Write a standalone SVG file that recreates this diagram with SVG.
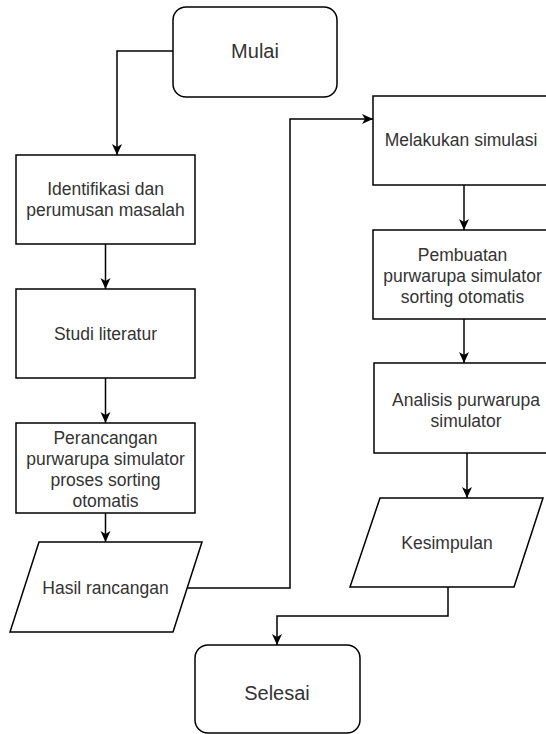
<svg xmlns="http://www.w3.org/2000/svg" width="546" height="734" viewBox="0 0 546 734">
<defs>
<marker id="arr" markerUnits="userSpaceOnUse" markerWidth="12" markerHeight="12" viewBox="0 0 12 12" refX="11" refY="6" orient="auto">
<path d="M0,1 L11,6 L0,11 L3,6 Z" fill="#000"/>
</marker>
<style>
.shape{fill:#fff;stroke:#000;stroke-width:1.5}
.t{font-family:"Liberation Sans",Arial,sans-serif;font-size:17.5px;fill:#333;text-anchor:middle}
.tt{font-family:"Liberation Sans",Arial,sans-serif;font-size:20px;fill:#333;text-anchor:middle}
.e{fill:none;stroke:#000;stroke-width:1.5;marker-end:url(#arr)}
</style>
</defs>
<rect width="546" height="734" fill="#fff"/>
<g id="connectors">
<path class="e" d="M173,51 H117 V155"/>
<path class="e" d="M105.5,244 V289"/>
<path class="e" d="M105.5,378 V423"/>
<path class="e" d="M105.5,513 V542"/>
<path class="e" d="M187,588 H290 V119 H373"/>
<path class="e" d="M464,185 V230"/>
<path class="e" d="M464,319 V363"/>
<path class="e" d="M467,453 V498"/>
<path class="e" d="M448,587 V616 H277 V645"/>
</g>
<g id="mulai">
<rect class="shape" x="173" y="7" width="164" height="90" rx="13"/>
<text class="tt" x="255" y="58">Mulai</text>
</g>
<g id="identifikasi">
<rect class="shape" x="16" y="155" width="179" height="89"/>
<text class="t" x="105.5" y="195">Identifikasi dan</text>
<text class="t" x="105.5" y="216">perumusan masalah</text>
</g>
<g id="studi">
<rect class="shape" x="16" y="289" width="179" height="89"/>
<text class="t" x="105.5" y="340">Studi literatur</text>
</g>
<g id="perancangan">
<rect class="shape" x="16" y="423" width="179" height="90"/>
<text class="t" x="105.5" y="444">Perancangan</text>
<text class="t" x="105.5" y="465">purwarupa simulator</text>
<text class="t" x="105.5" y="486">proses sorting</text>
<text class="t" x="105.5" y="507">otomatis</text>
</g>
<g id="hasil">
<path class="shape" d="M39,542 H202 L173,632 H10 Z"/>
<text class="t" x="105.5" y="594">Hasil rancangan</text>
</g>
<g id="melakukan">
<rect class="shape" x="373" y="96" width="179" height="89"/>
<text class="t" x="461" y="146">Melakukan simulasi</text>
</g>
<g id="pembuatan">
<rect class="shape" x="373" y="230" width="179" height="89"/>
<text class="t" x="462.5" y="261">Pembuatan</text>
<text class="t" x="462.5" y="282">purwarupa simulator</text>
<text class="t" x="462.5" y="303">sorting otomatis</text>
</g>
<g id="analisis">
<rect class="shape" x="374" y="363" width="179" height="90"/>
<text class="t" x="466" y="406">Analisis purwarupa</text>
<text class="t" x="466" y="427">simulator</text>
</g>
<g id="kesimpulan">
<path class="shape" d="M380,498 H543 L514,587 H350 Z"/>
<text class="t" x="447" y="549">Kesimpulan</text>
</g>
<g id="selesai">
<rect class="shape" x="195" y="645" width="165" height="88" rx="13"/>
<text class="tt" x="277" y="700">Selesai</text>
</g>
</svg>
